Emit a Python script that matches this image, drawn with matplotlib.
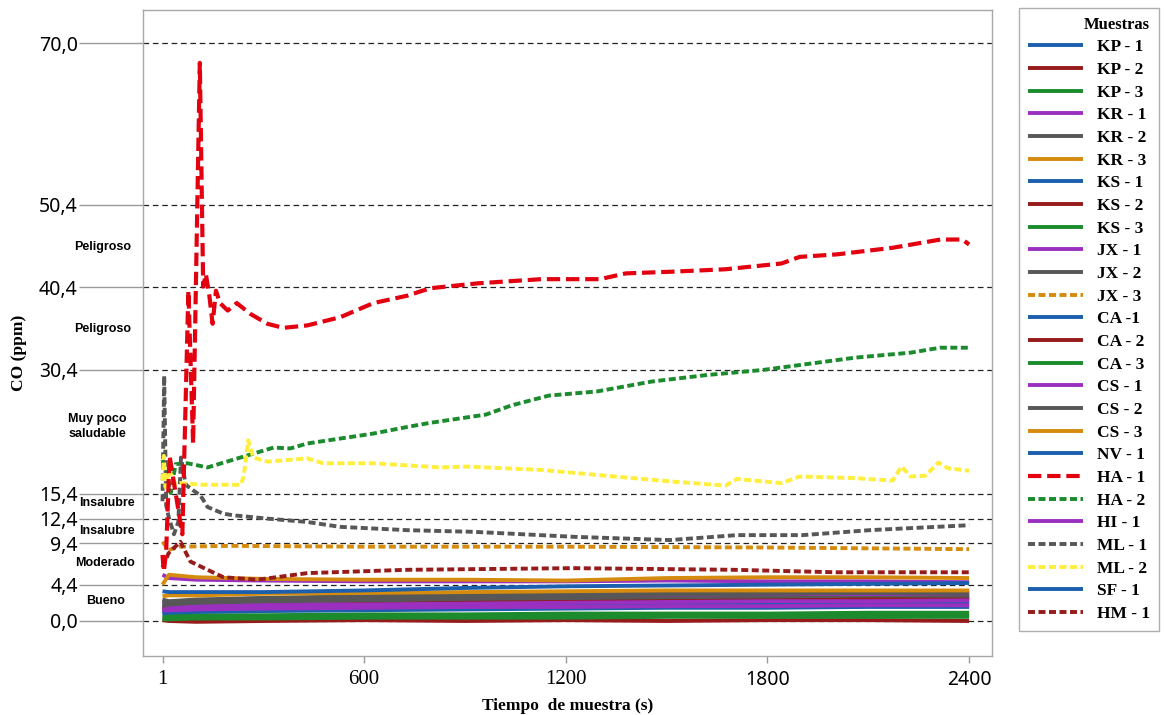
import matplotlib
matplotlib.use('Agg')
import matplotlib.pyplot as plt
from matplotlib.font_manager import FontProperties

# ---------------- data ----------------
t_base = [1, 20, 100, 300, 600, 900, 1200, 1500, 1800, 2100, 2400]

kp1 = [2.2, 2.3, 2.4, 2.6, 2.7, 2.8, 2.9, 2.9, 3.0, 3.0, 3.0]
kp2 = [1.6, 1.7, 1.8, 2.0, 2.2, 2.4, 2.5, 2.6, 2.7, 2.8, 2.8]
kp3 = [0.6, 0.6, 0.7, 0.7, 0.8, 0.8, 0.9, 0.9, 0.9, 1.0, 1.0]
kr1 = [5.6, 5.2, 5.0, 4.9, 4.8, 4.8, 4.8, 4.9, 4.8, 4.8, 4.7]
kr2 = [2.6, 2.4, 2.6, 2.8, 3.0, 3.2, 3.3, 3.3, 3.4, 3.4, 3.5]
kr3 = [4.4, 5.6, 5.3, 5.1, 5.0, 5.0, 4.9, 5.2, 5.3, 5.3, 5.2]
ks1 = [1.2, 1.3, 1.4, 1.6, 1.8, 2.0, 2.1, 2.2, 2.3, 2.3, 2.4]
ks2 = [0.1, 0.0, -0.1, 0.0, 0.1, 0.0, 0.1, 0.0, 0.1, 0.1, 0.0]
ks3 = [0.4, 0.4, 0.5, 0.5, 0.6, 0.6, 0.6, 0.7, 0.7, 0.7, 0.7]
jx1 = [2.0, 2.0, 2.1, 2.3, 2.5, 2.7, 2.9, 3.0, 3.1, 3.1, 3.2]
jx2 = [2.4, 2.3, 2.3, 2.4, 2.5, 2.6, 2.7, 2.7, 2.8, 2.8, 2.9]
ca1 = [1.0, 1.1, 1.2, 1.4, 1.6, 1.7, 1.8, 1.9, 2.0, 2.1, 2.1]
ca2 = [1.4, 1.5, 1.6, 1.8, 2.0, 2.2, 2.3, 2.4, 2.5, 2.6, 2.6]
ca3 = [0.2, 0.2, 0.3, 0.3, 0.4, 0.4, 0.4, 0.5, 0.5, 0.5, 0.5]
cs1 = [1.7, 1.7, 1.8, 1.9, 2.0, 2.1, 2.2, 2.3, 2.4, 2.4, 2.5]
cs2 = [1.8, 2.0, 2.2, 2.4, 2.7, 2.9, 3.1, 3.2, 3.3, 3.4, 3.4]
cs3 = [3.0, 3.1, 3.1, 3.3, 3.4, 3.5, 3.6, 3.7, 3.7, 3.7, 3.7]
nv1 = [0.9, 1.0, 1.1, 1.2, 1.3, 1.4, 1.5, 1.6, 1.6, 1.7, 1.7]
hi1 = [1.3, 1.3, 1.4, 1.5, 1.6, 1.7, 1.7, 1.8, 1.8, 1.9, 1.9]
sf1 = [3.6, 3.5, 3.5, 3.5, 3.7, 4.0, 4.2, 4.3, 4.4, 4.5, 4.6]

jx3_t = [1, 20, 50, 200, 600, 1200, 1800, 2400]
jx3_v = [9.6, 8.6, 9.0, 9.1, 9.0, 9.0, 8.9, 8.7]

ha1_t = [1, 5, 12, 22, 60, 78, 92, 112, 122, 130, 140, 150, 160, 172, 195, 222,
         262, 313, 360, 432, 530, 628, 729, 797, 940, 1127, 1302, 1379, 1513,
         1676, 1842, 1896, 2006, 2172, 2315, 2380, 2400]
ha1_v = [8.0, 6.0, 8.5, 20.0, 10.5, 40.0, 21.5, 67.6, 40.5, 42.0, 39.5, 36.0,
         40.0, 38.5, 37.6, 38.5, 37.2, 36.0, 35.5, 35.8, 36.8, 38.5, 39.4, 40.3,
         40.9, 41.4, 41.4, 42.1, 42.3, 42.6, 43.3, 44.1, 44.4, 45.2, 46.2, 46.2, 45.6]

ha2_t = [1, 10, 25, 40, 75, 135, 233, 331, 381, 432, 530, 628, 729, 797, 963,
         1038, 1150, 1293, 1456, 1622, 1786, 1896, 2062, 2226, 2314, 2400]
ha2_v = [19.5, 18.3, 15.5, 19.0, 19.1, 18.6, 19.8, 21.0, 20.9, 21.5, 22.1, 22.7,
         23.5, 24.0, 25.0, 26.1, 27.3, 27.8, 29.0, 29.8, 30.4, 31.0, 31.9, 32.5,
         33.1, 33.1]

ml1_t = [1, 6, 12, 20, 35, 48, 56, 70, 93, 114, 135, 182, 212, 313, 430, 530,
         729, 925, 1124, 1222, 1510, 1709, 1905, 2104, 2202, 2303, 2400]
ml1_v = [14.5, 29.7, 14.0, 12.5, 10.5, 12.0, 19.8, 16.5, 15.8, 15.2, 13.8, 13.0,
         12.8, 12.4, 12.0, 11.4, 11.0, 10.8, 10.4, 10.2, 9.8, 10.4, 10.4, 11.0,
         11.2, 11.4, 11.6]

ml2_t = [1, 5, 10, 20, 40, 54, 120, 233, 242, 256, 271, 313, 432, 479, 628, 827,
         907, 1127, 1346, 1513, 1676, 1709, 1842, 1896, 2062, 2172, 2199, 2226,
         2270, 2309, 2337, 2400]
ml2_v = [17.0, 20.0, 16.2, 18.3, 16.5, 16.7, 16.5, 16.5, 17.4, 21.9, 19.8, 19.3,
         19.7, 19.1, 19.1, 18.6, 18.7, 18.3, 17.5, 16.9, 16.4, 17.2, 16.7, 17.5,
         17.3, 17.0, 18.7, 17.5, 17.6, 19.2, 18.5, 18.2]

hm1_t = [1, 19, 54, 84, 135, 182, 283, 432, 729, 1222, 1700, 2006, 2400]
hm1_v = [6.5, 8.2, 9.6, 7.2, 6.2, 5.3, 5.0, 5.8, 6.2, 6.4, 6.2, 5.9, 5.9]

legend_labels = ["KP - 1", "KP - 2", "KP - 3", "KR - 1", "KR - 2", "KR - 3",
                 "KS - 1", "KS - 2", "KS - 3", "JX - 1", "JX - 2", "JX - 3",
                 "CA -1", "CA - 2", "CA - 3", "CS - 1", "CS - 2", "CS - 3",
                 "NV - 1", "HA - 1", "HA - 2", "HI - 1", "ML - 1", "ML - 2",
                 "SF - 1", "HM - 1"]

y_ticks = [0.0, 4.4, 9.4, 12.4, 15.4, 30.4, 40.4, 50.4, 70.0]
y_tick_labels = ["0,0", "4,4", "9,4", "12,4", "15,4", "30,4", "40,4", "50,4", "70,0"]
x_ticks = [1, 600, 1200, 1800, 2400]
x_tick_labels = ["1", "600", "1200", "1800", "2400"]

cat_labels = ["Peligroso", "Peligroso", "Muy poco\nsaludable", "Insalubre",
              "Insalubre", "Moderado", "Bueno"]
cat_y = [45.3, 35.4, 23.6, 14.3, 10.9, 7.0, 2.4]
cat_x = [-0.047, -0.047, -0.054, -0.042, -0.042, -0.045, -0.044]

# ---------------- styles ----------------
BLUE = '#1b5fad'
DRED = '#961b1b'
GREEN = '#1b8b2d'
PURP = '#9b30c0'
GRAY = '#575757'
ORNG = '#d58b0d'
RED = '#e3000f'
YELL = '#ffee3b'

LW = 2.8
dot = (0, (1.8, 0.9))
dash = (0, (3.2, 1.4))

series = [
    (t_base, kp1, BLUE, '-'), (t_base, kp2, DRED, '-'), (t_base, kp3, GREEN, '-'),
    (t_base, kr1, PURP, '-'), (t_base, kr2, GRAY, '-'), (t_base, kr3, ORNG, '-'),
    (t_base, ks1, BLUE, '-'), (t_base, ks2, DRED, '-'), (t_base, ks3, GREEN, '-'),
    (t_base, jx1, PURP, '-'), (t_base, jx2, GRAY, '-'), (jx3_t, jx3_v, ORNG, dot),
    (t_base, ca1, BLUE, '-'), (t_base, ca2, DRED, '-'), (t_base, ca3, GREEN, '-'),
    (t_base, cs1, PURP, '-'), (t_base, cs2, GRAY, '-'), (t_base, cs3, ORNG, '-'),
    (t_base, nv1, BLUE, '-'), (ha1_t, ha1_v, RED, dash), (ha2_t, ha2_v, GREEN, dot),
    (t_base, hi1, PURP, '-'), (ml1_t, ml1_v, GRAY, dot), (ml2_t, ml2_v, YELL, dot),
    (t_base, sf1, BLUE, '-'), (hm1_t, hm1_v, DRED, dot),
]

fig = plt.figure(figsize=(11.66, 7.15), dpi=100)
ax = fig.add_axes([143 / 1166, 1 - 656 / 715, (992 - 143) / 1166, (656 - 10) / 715])

order = [i for i, s in enumerate(series) if s[3] == '-'] + \
        [i for i, s in enumerate(series) if s[3] != '-' and s[2] != RED] + \
        [i for i, s in enumerate(series) if s[2] == RED]
handles = [None] * len(series)
for i in order:
    t, v, c, ls = series[i]
    lw = 3.0 if c == RED else LW
    ln, = ax.plot(t, v, color=c, linestyle=ls, linewidth=lw, solid_capstyle='butt',
                  dash_capstyle='butt', label=legend_labels[i])
    handles[i] = ln

ax.set_xlim(-57, 2468)
ax.set_ylim(-4.24, 74.0)

ax.set_yticks(y_ticks)
ax.set_yticklabels(y_tick_labels, fontfamily='Noto Sans', fontsize=14)
ax.set_xticks(x_ticks)
ax.set_xticklabels(x_tick_labels, fontsize=15)
for lab in ax.get_xticklabels():
    if lab.get_text() in ("1", "600", "1200"):
        lab.set_fontfamily('Liberation Serif')
        lab.set_fontsize(15)
    else:
        lab.set_fontfamily('Noto Sans')
        lab.set_fontsize(14)

ax.tick_params(axis='y', length=46, width=1, color='#9a9a9a', pad=1)
ax.tick_params(axis='x', length=5, width=1, color='#9a9a9a', pad=5)

ax.set_axisbelow(True)
ax.yaxis.grid(True, color='#222222', linestyle=(0, (4.5, 3.0)), linewidth=0.9)
ax.xaxis.grid(False)
for sp in ax.spines.values():
    sp.set_color('#a8a8a8')
    sp.set_linewidth(1)

ax.set_xlabel("Tiempo  de muestra (s)", fontfamily='Liberation Serif',
              fontweight='bold', fontsize=12.5, labelpad=6)
ax.set_ylabel("CO (ppm)", fontfamily='Liberation Serif', fontweight='bold',
              fontsize=12.5)
ax.yaxis.set_label_coords(-0.137, 0.47)

ytr = ax.get_yaxis_transform()
for txt, yy, xx in zip(cat_labels, cat_y, cat_x):
    ax.text(xx, yy, txt, transform=ytr, ha='center', va='center',
            fontfamily='Liberation Sans', fontweight='bold', fontsize=9,
            linespacing=1.35, clip_on=False)

leg_font = FontProperties(family='Liberation Serif', weight='bold', size=12.5)
title_font = FontProperties(family='Liberation Serif', weight='bold', size=12)
leg = fig.legend(handles=handles, labels=legend_labels, loc='upper left',
                 bbox_to_anchor=(1019 / 1166, 1 - 8 / 715), borderaxespad=0,
                 prop=leg_font, title="Muestras", title_fontproperties=title_font,
                 frameon=True, fancybox=False, edgecolor='#9a9a9a',
                 handlelength=3.2, handletextpad=0.8, labelspacing=0.375,
                 borderpad=0.5)
leg.get_frame().set_linewidth(1)
leg._legend_box.align = "right"

fig.savefig('out.png', dpi=100, facecolor='white')
